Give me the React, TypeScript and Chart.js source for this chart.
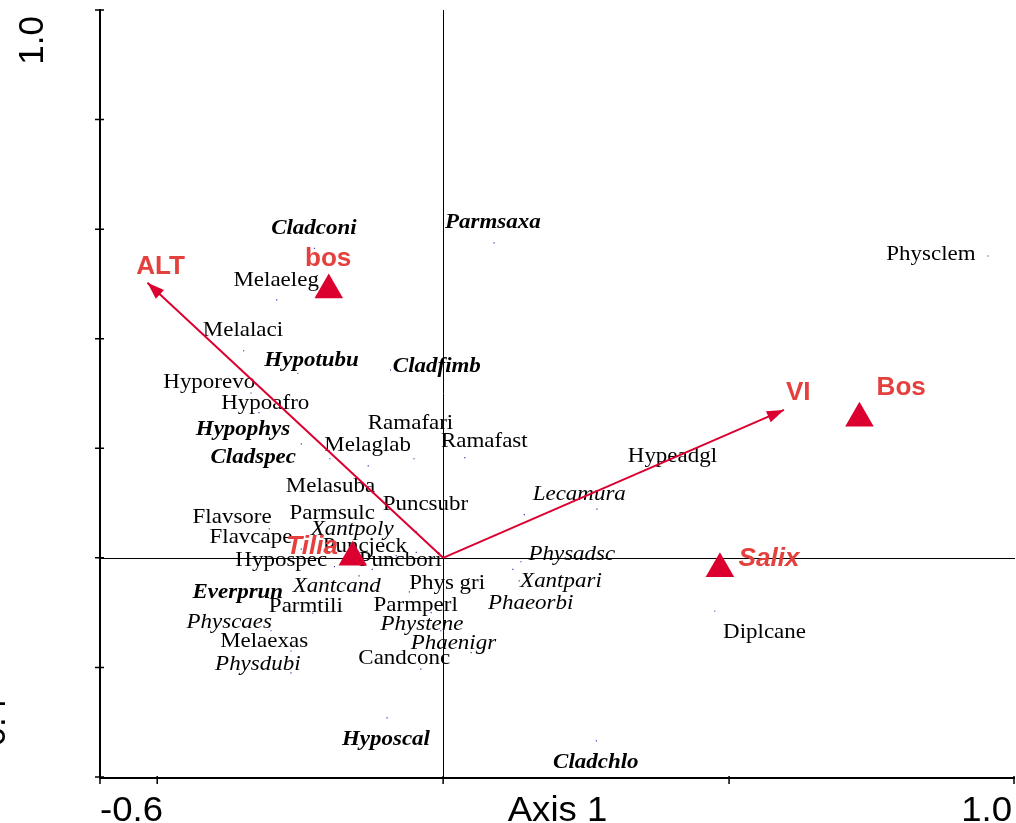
import React, { useEffect, useRef } from 'react';
import { Chart, registerables } from 'chart.js';

Chart.register(...registerables);

// ---------- axis definition ----------
const xMin = -0.6;
const xMax = 1.0;
const yMin = -0.4;
const yMax = 1.0;
const xTicks = [-0.6, -0.5, 0, 0.5, 1.0];
const yTicks = [-0.4, -0.2, 0, 0.2, 0.4, 0.6, 0.8, 1.0];
const xTitle = 'Axis 1';
const xEndLabels = ['-0.6', '1.0'];
const yEndLabels = ['-0.4', '1.0'];

// ---------- species (points + label anchors, in axis units) ----------
const speciesNames = [
  'Cladconi', 'Parmsaxa', 'Physclem', 'Melaeleg', 'Melalaci', 'Hypotubu', 'Cladfimb',
  'Hyporevo', 'Hypoafro', 'Hypophys', 'Cladspec', 'Melaglab', 'Ramafari', 'Ramafast',
  'Melasuba', 'Puncsubr', 'Hypeadgl', 'Lecamura', 'Flavsore', 'Parmsulc', 'Xantpoly',
  'Flavcape', 'Puncjeck', 'Hypospec', 'Puncbori', 'Everprun', 'Xantcand', 'Phys gri',
  'Physadsc', 'Xantpari', 'Parmtili', 'Parmperl', 'Phaeorbi', 'Physcaes', 'Phystene',
  'Melaexas', 'Phaenigr', 'Physdubi', 'Candconc', 'Diplcane', 'Hyposcal', 'Cladchlo',
];
// group: 0 = regular, 1 = italic, 2 = bold italic
const speciesGroup = [
  2, 2, 0, 0, 0, 2, 2,
  0, 0, 2, 2, 0, 0, 0,
  0, 0, 0, 1, 0, 0, 1,
  0, 0, 0, 0, 2, 1, 0,
  1, 1, 0, 0, 1, 1, 1,
  0, 1, 1, 0, 0, 2, 2,
];
const speciesX = [
  -0.225, 0.089, 0.953, -0.291, -0.349, -0.254, -0.092,
  -0.336, -0.322, -0.248, -0.198, -0.131, -0.051, 0.038,
  -0.123, -0.047, 0.269, 0.142, -0.304, -0.170, -0.124,
  -0.248, -0.082, -0.190, -0.047, -0.155, -0.147, -0.059,
  0.136, 0.122, -0.228, -0.021, 0.133, -0.301, -0.004,
  -0.266, 0.049, -0.266, -0.039, 0.475, -0.098, 0.268,
];
const speciesY = [
  0.565, 0.575, 0.551, 0.471, 0.378, 0.337, 0.343,
  0.301, 0.265, 0.208, 0.181, 0.168, 0.181, 0.183,
  0.119, 0.048, 0.089, 0.079, 0.053, 0.058, -0.021,
  0.016, 0.004, -0.016, 0.010, -0.060, -0.033, -0.062,
  -0.007, -0.021, -0.101, -0.100, -0.042, -0.133, -0.133,
  -0.170, -0.173, -0.210, -0.203, -0.097, -0.292, -0.334,
];
const speciesLabelX = [
  -0.226, 0.087, 0.853, -0.292, -0.350, -0.230, -0.011,
  -0.409, -0.311, -0.350, -0.332, -0.132, -0.057, 0.072,
  -0.197, -0.031, 0.401, 0.238, -0.369, -0.194, -0.159,
  -0.336, -0.137, -0.283, -0.075, -0.359, -0.186, 0.007,
  0.225, 0.206, -0.240, -0.048, 0.153, -0.374, -0.037,
  -0.313, 0.018, -0.324, -0.068, 0.562, -0.100, 0.267,
];
const speciesLabelY = [
  0.601, 0.612, 0.555, 0.506, 0.416, 0.360, 0.349,
  0.320, 0.283, 0.234, 0.183, 0.205, 0.245, 0.213,
  0.131, 0.097, 0.186, 0.117, 0.074, 0.082, 0.053,
  0.037, 0.022, -0.005, -0.004, -0.062, -0.051, -0.047,
  0.007, -0.042, -0.089, -0.086, -0.083, -0.117, -0.121,
  -0.152, -0.155, -0.195, -0.184, -0.135, -0.331, -0.373,
];

// ---------- environmental vectors ----------
const envNames = ['ALT', 'VI'];
const envX = [-0.517, 0.596];
const envY = [0.502, 0.270];
const envLabelX = [-0.494, 0.621];
const envLabelY = [0.531, 0.301];

// ---------- nominal variables (centroids) ----------
const centroidNames = ['bos', 'Bos', 'Salix', 'Tilia'];
const centroidGroup = [0, 0, 1, 1]; // 0 = bold, 1 = bold italic
const centroidX = [-0.200, 0.728, 0.484, -0.158];
const centroidY = [0.489, 0.255, -0.020, 0.001];
const centroidLabelX = [-0.201, 0.801, 0.570, -0.229];
const centroidLabelY = [0.546, 0.310, -0.002, 0.020];

const RED = '#DC0030';
const RED_TEXT = '#E4403E';
const STRETCH = 1.044;

const speciesFonts = [
  '22px "Liberation Serif", "Times New Roman", serif',
  'italic 22px "Liberation Serif", "Times New Roman", serif',
  'italic bold 22px "Liberation Serif", "Times New Roman", serif',
];
const centroidFonts = [
  'bold 25px "Liberation Sans", Arial, sans-serif',
  'italic bold 25px "Liberation Sans", Arial, sans-serif',
];
const axisFont = '35px "Liberation Sans", Arial, sans-serif';

function stretchedText(ctx: CanvasRenderingContext2D, text: string, px: number, py: number) {
  ctx.save();
  ctx.translate(px, py);
  ctx.scale(STRETCH, 1);
  ctx.fillText(text, 0, 0);
  ctx.restore();
}

const biplotPlugin = {
  id: 'biplot',
  beforeDatasetsDraw(chart: any) {
    const { ctx, chartArea: a, scales } = chart;
    const sx = scales.x;
    const sy = scales.y;
    const x0 = Math.round(sx.getPixelForValue(0)) + 0.5;
    const y0 = Math.round(sy.getPixelForValue(0)) + 0.5;
    ctx.save();
    // zero cross lines
    ctx.strokeStyle = '#000';
    ctx.lineWidth = 1;
    ctx.beginPath();
    ctx.moveTo(x0, a.top);
    ctx.lineTo(x0, a.bottom);
    ctx.moveTo(a.left, y0);
    ctx.lineTo(a.right, y0);
    ctx.stroke();

    // species labels
    ctx.fillStyle = '#000';
    ctx.textAlign = 'center';
    ctx.textBaseline = 'middle';
    speciesNames.forEach((n, i) => {
      ctx.font = speciesFonts[speciesGroup[i]];
      stretchedText(ctx, n, sx.getPixelForValue(speciesLabelX[i]), sy.getPixelForValue(speciesLabelY[i]));
    });
    ctx.restore();
  },
  afterDatasetsDraw(chart: any) {
    const { ctx, chartArea: a, scales } = chart;
    const sx = scales.x;
    const sy = scales.y;
    ctx.save();

    // arrowheads
    const ox = sx.getPixelForValue(0);
    const oy = sy.getPixelForValue(0);
    ctx.fillStyle = RED;
    envNames.forEach((_, i) => {
      const tx = sx.getPixelForValue(envX[i]);
      const ty = sy.getPixelForValue(envY[i]);
      const ang = Math.atan2(ty - oy, tx - ox);
      const len = 17;
      const hw = 6;
      const bx = tx - len * Math.cos(ang);
      const by = ty - len * Math.sin(ang);
      ctx.beginPath();
      ctx.moveTo(tx, ty);
      ctx.lineTo(bx + hw * Math.sin(ang), by - hw * Math.cos(ang));
      ctx.lineTo(bx - hw * Math.sin(ang), by + hw * Math.cos(ang));
      ctx.closePath();
      ctx.fill();
    });

    // red labels
    ctx.fillStyle = RED_TEXT;
    ctx.textAlign = 'center';
    ctx.textBaseline = 'middle';
    envNames.forEach((n, i) => {
      ctx.font = centroidFonts[0];
      stretchedText(ctx, n, sx.getPixelForValue(envLabelX[i]), sy.getPixelForValue(envLabelY[i]));
    });
    centroidNames.forEach((n, i) => {
      ctx.font = centroidFonts[centroidGroup[i]];
      stretchedText(ctx, n, sx.getPixelForValue(centroidLabelX[i]), sy.getPixelForValue(centroidLabelY[i]));
    });

    // axes frame (left + bottom)
    ctx.strokeStyle = '#000';
    ctx.lineWidth = 2;
    ctx.beginPath();
    ctx.moveTo(a.left, a.top - 1);
    ctx.lineTo(a.left, a.bottom + 1);
    ctx.lineTo(a.right, a.bottom + 1);
    ctx.stroke();
    ctx.lineWidth = 1.5;
    ctx.beginPath();
    yTicks.forEach((t) => {
      const py = sy.getPixelForValue(t);
      ctx.moveTo(a.left - 5, py);
      ctx.lineTo(a.left + 4, py);
    });
    xTicks.forEach((t) => {
      const px = Math.min(sx.getPixelForValue(t), a.right - 1);
      ctx.moveTo(px, a.bottom - 1);
      ctx.lineTo(px, a.bottom + 7);
    });
    ctx.stroke();

    // axis labels
    ctx.fillStyle = '#000';
    ctx.font = axisFont;
    ctx.textBaseline = 'alphabetic';
    const base = a.bottom + 44;
    ctx.textAlign = 'left';
    stretchedText(ctx, xEndLabels[0], sx.getPixelForValue(xMin), base);
    ctx.textAlign = 'right';
    stretchedText(ctx, xEndLabels[1], sx.getPixelForValue(xMax) - 3, base);
    ctx.textAlign = 'center';
    stretchedText(ctx, xTitle, (a.left + a.right) / 2, base);

    // rotated y labels
    ctx.save();
    ctx.translate(43, a.top + 6);
    ctx.rotate(-Math.PI / 2);
    ctx.textAlign = 'right';
    ctx.fillText(yEndLabels[1], 0, 0);
    ctx.restore();
    ctx.save();
    ctx.translate(5, a.bottom - 19);
    ctx.rotate(-Math.PI / 2);
    ctx.textAlign = 'left';
    ctx.fillText(yEndLabels[0], 0, 0);
    ctx.restore();

    ctx.restore();
  },
};

export default function App() {
  const ref = useRef<HTMLCanvasElement | null>(null);
  useEffect(() => {
    if (!ref.current) return;
    const arrowSets = envNames.map((n, i) => ({
      label: n,
      data: [
        { x: 0, y: 0 },
        { x: envX[i], y: envY[i] },
      ],
      showLine: true,
      borderColor: RED,
      borderWidth: 2,
      pointRadius: 0,
      fill: false,
    }));
    const chart = new Chart(ref.current, {
      type: 'scatter',
      data: {
        datasets: [
          {
            label: 'centroids',
            data: centroidX.map((x, i) => ({ x, y: centroidY[i] })),
            pointStyle: 'triangle',
            pointRadius: 16.5,
            backgroundColor: RED,
            borderColor: RED,
            borderWidth: 0,
          },
          ...arrowSets,
          {
            label: 'species',
            data: speciesX.map((x, i) => ({ x, y: speciesY[i] })),
            pointStyle: 'rect',
            pointRadius: 0.8,
            backgroundColor: '#2a2ab0',
            borderWidth: 0,
          },
        ],
      },
      options: {
        responsive: false,
        animation: false,
        devicePixelRatio: 1,
        layout: { autoPadding: false, padding: { left: 100, right: 1, top: 10, bottom: 46 } },
        scales: {
          x: { type: 'linear', min: xMin, max: xMax, display: false },
          y: { type: 'linear', min: yMin, max: yMax, display: false },
        },
        plugins: {
          legend: { display: false },
          tooltip: { enabled: false },
        },
      } as any,
      plugins: [biplotPlugin],
    });
    return () => chart.destroy();
  }, []);
  return (
    <div style={{ position: 'fixed', left: 0, top: 0, width: 1016, height: 823, background: '#fff' }}>
      <canvas ref={ref} width={1016} height={823} style={{ display: 'block' }} />
    </div>
  );
}
